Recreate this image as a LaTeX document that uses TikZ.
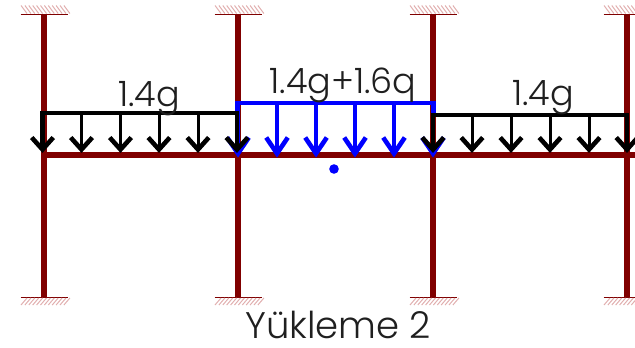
\documentclass[tikz,border=0pt]{standalone}
\usepackage{fontspec}
\setmainfont{Poppins}[UprightFont=* Light]
\definecolor{frame}{RGB}{128,0,0}
\definecolor{hatchc}{RGB}{225,175,175}
\definecolor{loadblue}{RGB}{0,0,255}
\tikzset{
  member/.style={draw=frame,line width=5.5pt},
  beam/.style={draw=frame,line width=6.5pt},
  base/.style={draw=frame,line width=1pt},
  hatch/.style={draw=hatchc,line width=1pt},
  blackline/.style={line width=4.5pt,line join=miter},
  blueline/.style={line width=4pt,line join=miter},
  lbl/.style={inner sep=0pt,anchor=base,font=\fontsize{35}{36}\selectfont,text=black!88}
}
\newcommand{\fixtop}[1]{%
  \draw[base] (#1-23.5,14.5) -- (#1+23.5,14.5);
  \foreach \i in {0,...,11} \draw[hatch] (#1-23+\i*3.9,5.5) -- (#1-17+\i*3.9,13.5);}
\newcommand{\fixbot}[1]{%
  \draw[base] (#1-23.5,297) -- (#1+23.5,297);
  \foreach \i in {0,...,11} \draw[hatch] (#1-23+\i*3.9,305) -- (#1-17+\i*3.9,298);}
\newcommand{\loadarrow}[4]{% x, top y, colour, width
  \draw[#3,line width=#4] (#1,#2) -- (#1,149);
  \draw[#3,line width=4.6pt,line join=miter,miter limit=10] (#1-10.8,137.5) -- (#1,149.5) -- (#1+10.8,137.5);}
\begin{document}
\begin{tikzpicture}[x=1pt,y=-1pt]
\useasboundingbox (0,0) rectangle (635,348);
\foreach \c in {44,238,433,627} {\fixtop{\c}\fixbot{\c}}
\coordinate (t1) at (44,14); \coordinate (b1) at (44,297);
\coordinate (t2) at (238,14); \coordinate (b2) at (238,297);
\coordinate (t3) at (433,14); \coordinate (b3) at (433,297);
\coordinate (t4) at (627,14); \coordinate (b4) at (627,297);
\coordinate (bl) at (44,155); \coordinate (br) at (635,155);
\draw[member] (t1) -- (b1);
\draw[member] (t2) -- (b2);
\draw[member] (t3) -- (b3);
\draw[member] (t4) -- (b4);
\draw[beam] (bl) -- (br);
% blue load
\foreach \x in {238,277,316,355,394,433} {\draw[loadblue,line width=3.5pt] (\x,103) -- (\x,153);
  \draw[loadblue,line width=4.6pt,line join=miter,miter limit=10] (\x-10.8,137.5) -- (\x,153.5) -- (\x+10.8,137.5);}
\draw[loadblue,blueline] (237,112) -- (237,103) -- (434,103) -- (434,115);
% black loads
\foreach \x in {81.5,120.5,159,198} {\loadarrow{\x}{113}{black}{3pt}}
\foreach \x in {42.5,237} {\loadarrow{\x}{113}{black}{4.5pt}}
\draw[black,blackline] (40.3,113) -- (239,113);
\foreach \x in {472,511,550,589} {\loadarrow{\x}{115}{black}{3pt}}
\foreach \x in {433,627} {\loadarrow{\x}{115}{black}{4.5pt}}
\draw[black,blackline] (431,115) -- (629,115);
\fill[loadblue] (334,169) circle (4.8pt);
\node[lbl] (la) at (149,106) {1.4g};
\node[lbl] (lb) at (343,93) {1.4g+1.6q};
\node[lbl] (lc) at (543,105) {1.4g};
\node[lbl,font=\fontsize{37}{37}\selectfont] (ti) at (338,338) {Yükleme 2};
\end{tikzpicture}
\end{document}
